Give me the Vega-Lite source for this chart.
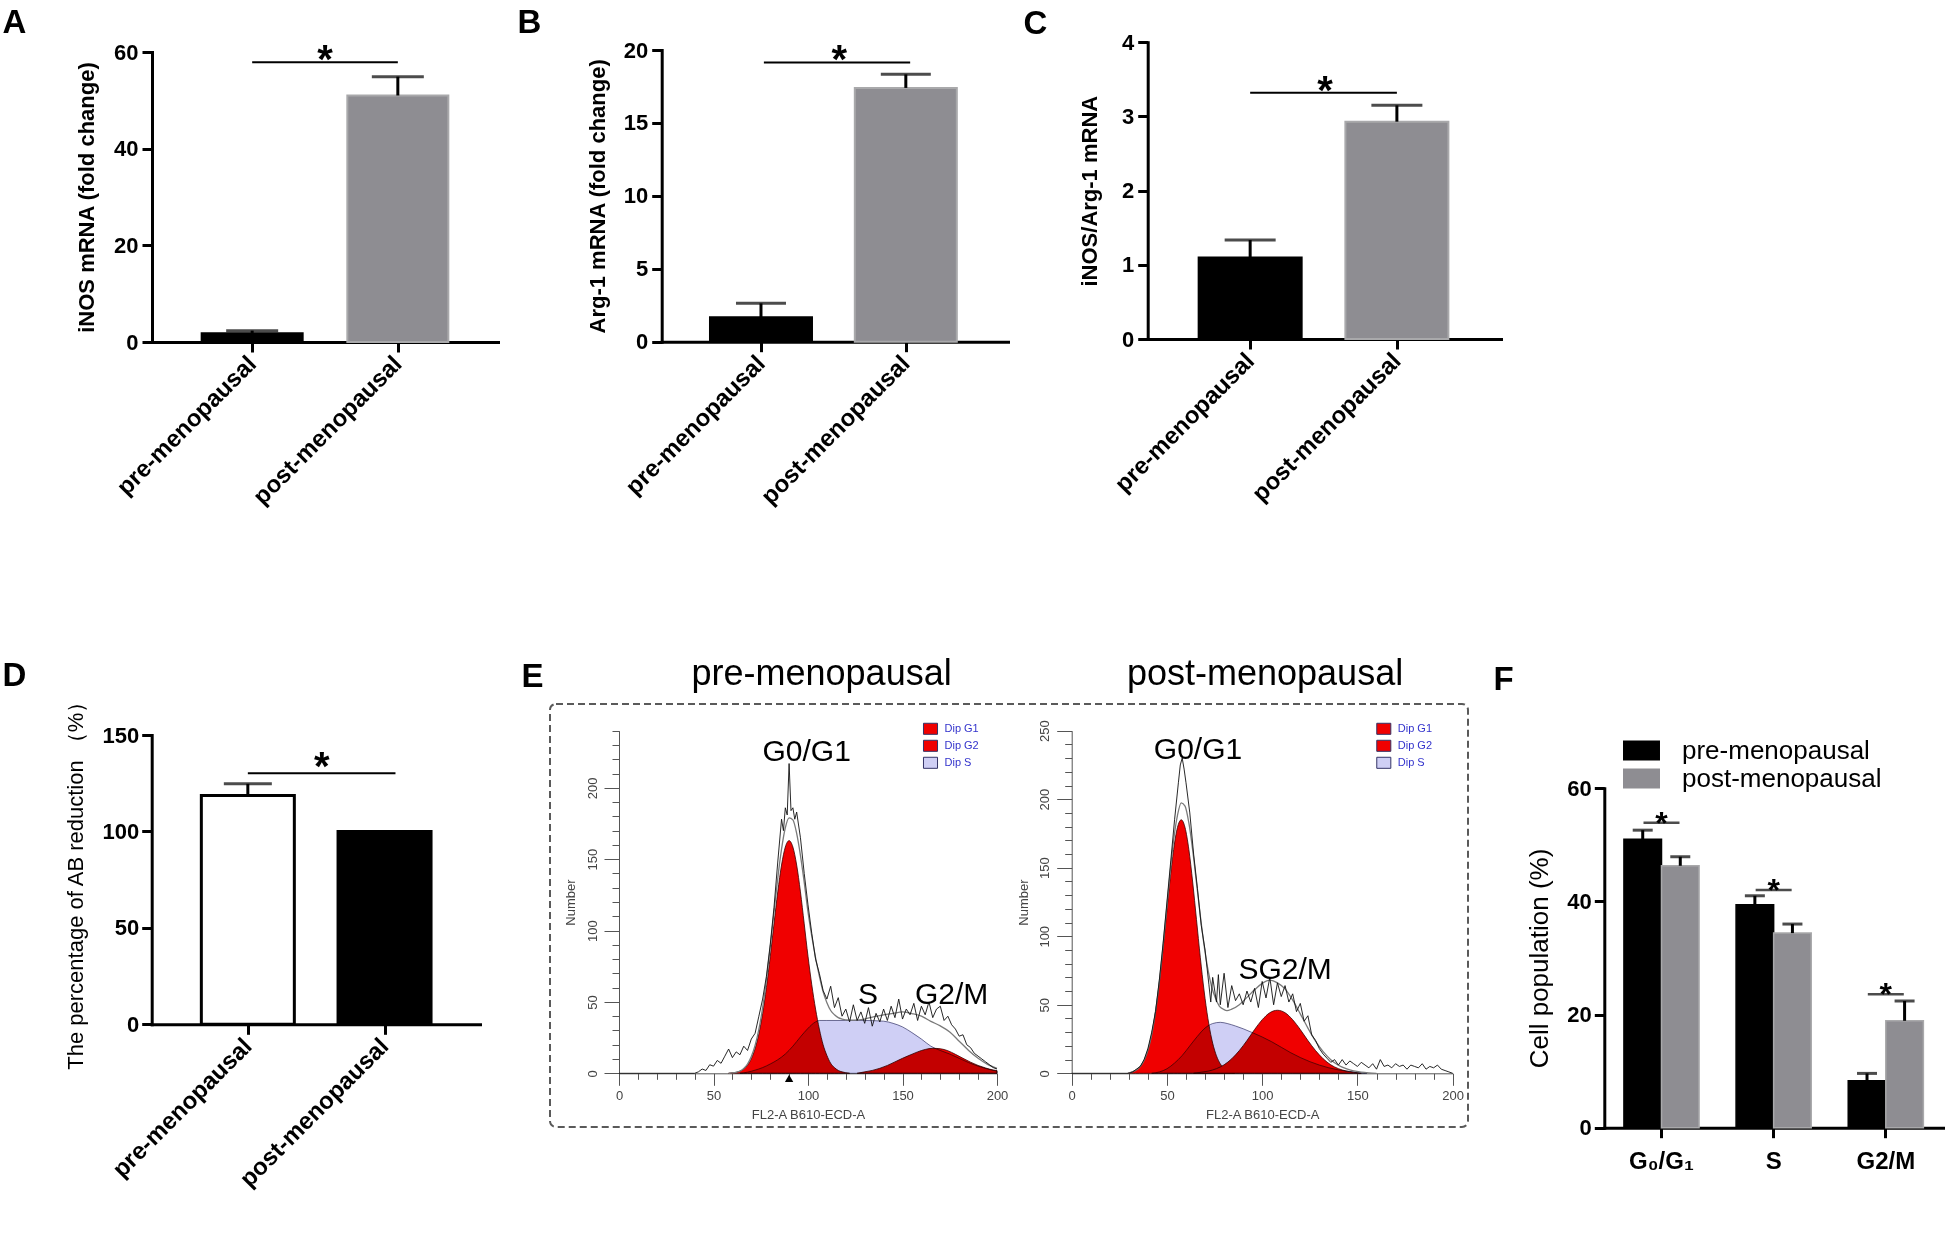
{
  "$schema": "https://vega.github.io/schema/vega-lite/v6.json",
  "width": 1946,
  "height": 1249,
  "autosize": {"type": "none"},
  "padding": 0,
  "background": "white",
  "config": {
    "view": {"stroke": null},
    "font": "Liberation Sans",
    "axis": {"grid": false, "domainColor": "#000", "tickColor": "#000", "labelColor": "#000", "titleColor": "#000", "labelFont": "Liberation Sans", "titleFont": "Liberation Sans", "labelFlush": false, "labelOverlap": false, "labelLimit": 0},
    "legend": {"padding": 0, "labelFont": "Liberation Sans", "titleFont": "Liberation Sans", "labelLimit": 0},
    "text": {"font": "Liberation Sans"}
  },
  "datasets": {
    "hist": [
      {"sample":"pre","comp":"Dip G1","x":58,"y":0},{"sample":"pre","comp":"Dip G1","x":60,"y":0.3},{"sample":"pre","comp":"Dip G1","x":62,"y":0.7},{"sample":"pre","comp":"Dip G1","x":64,"y":1.5},{"sample":"pre","comp":"Dip G1","x":66,"y":3},{"sample":"pre","comp":"Dip G1","x":68,"y":5.7},{"sample":"pre","comp":"Dip G1","x":70,"y":10.2},{"sample":"pre","comp":"Dip G1","x":72,"y":17.3},{"sample":"pre","comp":"Dip G1","x":74,"y":27.7},{"sample":"pre","comp":"Dip G1","x":76,"y":42},{"sample":"pre","comp":"Dip G1","x":78,"y":60.2},{"sample":"pre","comp":"Dip G1","x":80,"y":81.6},{"sample":"pre","comp":"Dip G1","x":82,"y":104.7},{"sample":"pre","comp":"Dip G1","x":84,"y":127.1},{"sample":"pre","comp":"Dip G1","x":86,"y":145.9},{"sample":"pre","comp":"Dip G1","x":88,"y":158.5},{"sample":"pre","comp":"Dip G1","x":90,"y":163},{"sample":"pre","comp":"Dip G1","x":92,"y":158.5},{"sample":"pre","comp":"Dip G1","x":94,"y":145.9},{"sample":"pre","comp":"Dip G1","x":96,"y":127.1},{"sample":"pre","comp":"Dip G1","x":98,"y":104.7},{"sample":"pre","comp":"Dip G1","x":100,"y":82},{"sample":"pre","comp":"Dip G1","x":102,"y":62},{"sample":"pre","comp":"Dip G1","x":104,"y":45},{"sample":"pre","comp":"Dip G1","x":106,"y":31},{"sample":"pre","comp":"Dip G1","x":108,"y":20},{"sample":"pre","comp":"Dip G1","x":110,"y":12.5},{"sample":"pre","comp":"Dip G1","x":112,"y":7},{"sample":"pre","comp":"Dip G1","x":114,"y":4},{"sample":"pre","comp":"Dip G1","x":116,"y":2},{"sample":"pre","comp":"Dip G1","x":118,"y":1},{"sample":"pre","comp":"Dip G1","x":120,"y":0.4},{"sample":"pre","comp":"Dip G1","x":122,"y":0},
      {"sample":"pre","comp":"Dip G2","x":126,"y":0},{"sample":"pre","comp":"Dip G2","x":130,"y":1},{"sample":"pre","comp":"Dip G2","x":134,"y":2},{"sample":"pre","comp":"Dip G2","x":138,"y":3.5},{"sample":"pre","comp":"Dip G2","x":142,"y":5.5},{"sample":"pre","comp":"Dip G2","x":146,"y":8},{"sample":"pre","comp":"Dip G2","x":150,"y":10.5},{"sample":"pre","comp":"Dip G2","x":154,"y":12.8},{"sample":"pre","comp":"Dip G2","x":158,"y":15},{"sample":"pre","comp":"Dip G2","x":162,"y":16.7},{"sample":"pre","comp":"Dip G2","x":166,"y":17.5},{"sample":"pre","comp":"Dip G2","x":170,"y":17.2},{"sample":"pre","comp":"Dip G2","x":174,"y":15.8},{"sample":"pre","comp":"Dip G2","x":178,"y":13.3},{"sample":"pre","comp":"Dip G2","x":182,"y":10.5},{"sample":"pre","comp":"Dip G2","x":186,"y":7.8},{"sample":"pre","comp":"Dip G2","x":190,"y":5.5},{"sample":"pre","comp":"Dip G2","x":194,"y":3.7},{"sample":"pre","comp":"Dip G2","x":198,"y":2.3},{"sample":"pre","comp":"Dip G2","x":200,"y":1.9},
      {"sample":"pre","comp":"Dip S","x":64,"y":0},{"sample":"pre","comp":"Dip S","x":68,"y":0.8},{"sample":"pre","comp":"Dip S","x":72,"y":2.2},{"sample":"pre","comp":"Dip S","x":76,"y":4},{"sample":"pre","comp":"Dip S","x":80,"y":6.5},{"sample":"pre","comp":"Dip S","x":84,"y":9.5},{"sample":"pre","comp":"Dip S","x":88,"y":13.5},{"sample":"pre","comp":"Dip S","x":92,"y":19},{"sample":"pre","comp":"Dip S","x":96,"y":25.5},{"sample":"pre","comp":"Dip S","x":100,"y":31.5},{"sample":"pre","comp":"Dip S","x":104,"y":36},{"sample":"pre","comp":"Dip S","x":106,"y":37},{"sample":"pre","comp":"Dip S","x":110,"y":37},{"sample":"pre","comp":"Dip S","x":120,"y":37},{"sample":"pre","comp":"Dip S","x":130,"y":37},{"sample":"pre","comp":"Dip S","x":140,"y":36.5},{"sample":"pre","comp":"Dip S","x":145,"y":35},{"sample":"pre","comp":"Dip S","x":150,"y":32.5},{"sample":"pre","comp":"Dip S","x":155,"y":28.5},{"sample":"pre","comp":"Dip S","x":160,"y":24},{"sample":"pre","comp":"Dip S","x":165,"y":19},{"sample":"pre","comp":"Dip S","x":170,"y":16},{"sample":"pre","comp":"Dip S","x":175,"y":13.5},{"sample":"pre","comp":"Dip S","x":180,"y":10.5},{"sample":"pre","comp":"Dip S","x":185,"y":7.5},{"sample":"pre","comp":"Dip S","x":190,"y":5},{"sample":"pre","comp":"Dip S","x":195,"y":3},{"sample":"pre","comp":"Dip S","x":200,"y":1.5},
      {"sample":"post","comp":"Dip G1","x":29.5,"y":0},{"sample":"post","comp":"Dip G1","x":31.5,"y":0.9},{"sample":"post","comp":"Dip G1","x":33.5,"y":2.1},{"sample":"post","comp":"Dip G1","x":35.5,"y":4.2},{"sample":"post","comp":"Dip G1","x":37.5,"y":8.1},{"sample":"post","comp":"Dip G1","x":39.5,"y":14.7},{"sample":"post","comp":"Dip G1","x":41.5,"y":25},{"sample":"post","comp":"Dip G1","x":43.5,"y":40},{"sample":"post","comp":"Dip G1","x":45.5,"y":60.1},{"sample":"post","comp":"Dip G1","x":47.5,"y":84.7},{"sample":"post","comp":"Dip G1","x":49.5,"y":112.2},{"sample":"post","comp":"Dip G1","x":51.5,"y":139.6},{"sample":"post","comp":"Dip G1","x":53.5,"y":163.3},{"sample":"post","comp":"Dip G1","x":55.5,"y":179.3},{"sample":"post","comp":"Dip G1","x":57.5,"y":185},{"sample":"post","comp":"Dip G1","x":59.5,"y":179.3},{"sample":"post","comp":"Dip G1","x":61.5,"y":163.3},{"sample":"post","comp":"Dip G1","x":63.5,"y":139.6},{"sample":"post","comp":"Dip G1","x":65.5,"y":112.2},{"sample":"post","comp":"Dip G1","x":67.5,"y":84.7},{"sample":"post","comp":"Dip G1","x":69.5,"y":60.1},{"sample":"post","comp":"Dip G1","x":71.5,"y":40},{"sample":"post","comp":"Dip G1","x":73.5,"y":25},{"sample":"post","comp":"Dip G1","x":75.5,"y":14.7},{"sample":"post","comp":"Dip G1","x":77.5,"y":8.1},{"sample":"post","comp":"Dip G1","x":79.5,"y":4.2},{"sample":"post","comp":"Dip G1","x":81.5,"y":2.1},{"sample":"post","comp":"Dip G1","x":83.5,"y":0.9},{"sample":"post","comp":"Dip G1","x":85.5,"y":0},
      {"sample":"post","comp":"Dip G2","x":64,"y":0},{"sample":"post","comp":"Dip G2","x":68,"y":0.8},{"sample":"post","comp":"Dip G2","x":72,"y":1.7},{"sample":"post","comp":"Dip G2","x":76,"y":3.4},{"sample":"post","comp":"Dip G2","x":80,"y":6.2},{"sample":"post","comp":"Dip G2","x":84,"y":10.6},{"sample":"post","comp":"Dip G2","x":88,"y":16.6},{"sample":"post","comp":"Dip G2","x":92,"y":23.9},{"sample":"post","comp":"Dip G2","x":96,"y":31.9},{"sample":"post","comp":"Dip G2","x":100,"y":39.1},{"sample":"post","comp":"Dip G2","x":104,"y":44.2},{"sample":"post","comp":"Dip G2","x":108,"y":46},{"sample":"post","comp":"Dip G2","x":112,"y":44.2},{"sample":"post","comp":"Dip G2","x":116,"y":39.1},{"sample":"post","comp":"Dip G2","x":120,"y":31.9},{"sample":"post","comp":"Dip G2","x":124,"y":23.9},{"sample":"post","comp":"Dip G2","x":128,"y":16.6},{"sample":"post","comp":"Dip G2","x":132,"y":10.6},{"sample":"post","comp":"Dip G2","x":136,"y":6.2},{"sample":"post","comp":"Dip G2","x":140,"y":3.4},{"sample":"post","comp":"Dip G2","x":144,"y":1.7},{"sample":"post","comp":"Dip G2","x":148,"y":0.8},{"sample":"post","comp":"Dip G2","x":152,"y":0},
      {"sample":"post","comp":"Dip S","x":42,"y":0},{"sample":"post","comp":"Dip S","x":46,"y":1},{"sample":"post","comp":"Dip S","x":50,"y":3.3},{"sample":"post","comp":"Dip S","x":54,"y":7.5},{"sample":"post","comp":"Dip S","x":58,"y":13},{"sample":"post","comp":"Dip S","x":62,"y":20},{"sample":"post","comp":"Dip S","x":66,"y":27},{"sample":"post","comp":"Dip S","x":70,"y":33},{"sample":"post","comp":"Dip S","x":74,"y":36.3},{"sample":"post","comp":"Dip S","x":78,"y":37.2},{"sample":"post","comp":"Dip S","x":82,"y":36.2},{"sample":"post","comp":"Dip S","x":86,"y":34.5},{"sample":"post","comp":"Dip S","x":90,"y":32.5},{"sample":"post","comp":"Dip S","x":95,"y":29.6},{"sample":"post","comp":"Dip S","x":100,"y":26.5},{"sample":"post","comp":"Dip S","x":105,"y":23},{"sample":"post","comp":"Dip S","x":110,"y":19},{"sample":"post","comp":"Dip S","x":115,"y":15},{"sample":"post","comp":"Dip S","x":120,"y":11.5},{"sample":"post","comp":"Dip S","x":125,"y":8.5},{"sample":"post","comp":"Dip S","x":130,"y":6},{"sample":"post","comp":"Dip S","x":135,"y":4},{"sample":"post","comp":"Dip S","x":140,"y":2.5},{"sample":"post","comp":"Dip S","x":145,"y":1.5},{"sample":"post","comp":"Dip S","x":150,"y":0.7},{"sample":"post","comp":"Dip S","x":155,"y":0}
    ],
    "fit": [
      {"sample":"pre","x":58,"y":0},{"sample":"pre","x":60,"y":0.3},{"sample":"pre","x":62,"y":0.7},{"sample":"pre","x":64,"y":1.5},{"sample":"pre","x":66,"y":3.4},{"sample":"pre","x":68,"y":6.5},{"sample":"pre","x":70,"y":11.7},{"sample":"pre","x":72,"y":19.5},{"sample":"pre","x":74,"y":30.8},{"sample":"pre","x":76,"y":46},{"sample":"pre","x":78,"y":65.5},{"sample":"pre","x":80,"y":88},{"sample":"pre","x":82,"y":112.6},{"sample":"pre","x":84,"y":136.6},{"sample":"pre","x":86,"y":157},{"sample":"pre","x":88,"y":172},{"sample":"pre","x":90,"y":179},{"sample":"pre","x":92,"y":177.5},{"sample":"pre","x":94,"y":168},{"sample":"pre","x":96,"y":152.6},{"sample":"pre","x":98,"y":133.7},{"sample":"pre","x":100,"y":113},{"sample":"pre","x":102,"y":96},{"sample":"pre","x":104,"y":81},{"sample":"pre","x":106,"y":68},{"sample":"pre","x":108,"y":57},{"sample":"pre","x":110,"y":49.5},{"sample":"pre","x":112,"y":44},{"sample":"pre","x":114,"y":41},{"sample":"pre","x":116,"y":39},{"sample":"pre","x":118,"y":38},{"sample":"pre","x":120,"y":37.4},{"sample":"pre","x":125,"y":37.2},{"sample":"pre","x":130,"y":38},{"sample":"pre","x":135,"y":39.7},{"sample":"pre","x":140,"y":41},{"sample":"pre","x":145,"y":42},{"sample":"pre","x":150,"y":43},{"sample":"pre","x":155,"y":41.8},{"sample":"pre","x":160,"y":40},{"sample":"pre","x":165,"y":36.4},{"sample":"pre","x":170,"y":33.2},{"sample":"pre","x":175,"y":29},{"sample":"pre","x":180,"y":22.5},{"sample":"pre","x":185,"y":16},{"sample":"pre","x":190,"y":10.5},{"sample":"pre","x":195,"y":6.3},{"sample":"pre","x":200,"y":3.4},
      {"sample":"post","x":29.5,"y":0},{"sample":"post","x":31.5,"y":0.9},{"sample":"post","x":33.5,"y":2.1},{"sample":"post","x":35.5,"y":4.2},{"sample":"post","x":37.5,"y":8.1},{"sample":"post","x":39.5,"y":14.7},{"sample":"post","x":41.5,"y":25},{"sample":"post","x":43.5,"y":40.5},{"sample":"post","x":45.5,"y":61},{"sample":"post","x":47.5,"y":86.5},{"sample":"post","x":49.5,"y":115.3},{"sample":"post","x":51.5,"y":144.2},{"sample":"post","x":53.5,"y":170.2},{"sample":"post","x":55.5,"y":188.1},{"sample":"post","x":57.5,"y":197.4},{"sample":"post","x":59.5,"y":195},{"sample":"post","x":61.5,"y":182.7},{"sample":"post","x":63.5,"y":163},{"sample":"post","x":65.5,"y":139.1},{"sample":"post","x":67.5,"y":115.1},{"sample":"post","x":69.5,"y":93.4},{"sample":"post","x":71.5,"y":75.9},{"sample":"post","x":73.5,"y":63},{"sample":"post","x":75.5,"y":54.7},{"sample":"post","x":77.5,"y":49},{"sample":"post","x":79.5,"y":46.9},{"sample":"post","x":81.5,"y":45.7},{"sample":"post","x":84,"y":46.8},{"sample":"post","x":88,"y":50.1},{"sample":"post","x":92,"y":55.4},{"sample":"post","x":96,"y":60.9},{"sample":"post","x":100,"y":65.6},{"sample":"post","x":104,"y":68},{"sample":"post","x":108,"y":66},{"sample":"post","x":112,"y":61.6},{"sample":"post","x":116,"y":53.4},{"sample":"post","x":120,"y":43.4},{"sample":"post","x":124,"y":33},{"sample":"post","x":128,"y":23.5},{"sample":"post","x":132,"y":15.8},{"sample":"post","x":136,"y":9.9},{"sample":"post","x":140,"y":5.9},{"sample":"post","x":144,"y":3.4},{"sample":"post","x":148,"y":1.7},{"sample":"post","x":152,"y":0.8},{"sample":"post","x":156,"y":0.3},{"sample":"post","x":160,"y":0}
    ],
    "raw": [
      {"sample":"pre","x":0,"y":0},{"sample":"pre","x":40,"y":0},{"sample":"pre","x":42,"y":1},{"sample":"pre","x":44,"y":3},{"sample":"pre","x":46,"y":2},{"sample":"pre","x":48,"y":6},{"sample":"pre","x":50,"y":5},{"sample":"pre","x":52,"y":9},{"sample":"pre","x":54,"y":7},{"sample":"pre","x":56,"y":12},{"sample":"pre","x":58,"y":17},{"sample":"pre","x":60,"y":11},{"sample":"pre","x":62,"y":15},{"sample":"pre","x":64,"y":13},{"sample":"pre","x":66,"y":19},{"sample":"pre","x":68,"y":16},{"sample":"pre","x":70,"y":24},{"sample":"pre","x":72,"y":28},{"sample":"pre","x":74,"y":40},{"sample":"pre","x":76,"y":52},{"sample":"pre","x":78,"y":68},{"sample":"pre","x":80,"y":90},{"sample":"pre","x":82,"y":116},{"sample":"pre","x":84,"y":148},{"sample":"pre","x":86,"y":178},{"sample":"pre","x":87,"y":170},{"sample":"pre","x":88,"y":186},{"sample":"pre","x":89,"y":181},{"sample":"pre","x":90,"y":217},{"sample":"pre","x":91,"y":184},{"sample":"pre","x":92,"y":186},{"sample":"pre","x":93,"y":178},{"sample":"pre","x":94,"y":183},{"sample":"pre","x":96,"y":165},{"sample":"pre","x":98,"y":140},{"sample":"pre","x":100,"y":118},{"sample":"pre","x":102,"y":98},{"sample":"pre","x":104,"y":80},{"sample":"pre","x":106,"y":70},{"sample":"pre","x":108,"y":58},{"sample":"pre","x":110,"y":52},{"sample":"pre","x":112,"y":61},{"sample":"pre","x":114,"y":46},{"sample":"pre","x":116,"y":53},{"sample":"pre","x":118,"y":40},{"sample":"pre","x":120,"y":45},{"sample":"pre","x":122,"y":36},{"sample":"pre","x":124,"y":48},{"sample":"pre","x":126,"y":37},{"sample":"pre","x":128,"y":43},{"sample":"pre","x":130,"y":35},{"sample":"pre","x":132,"y":46},{"sample":"pre","x":134,"y":33},{"sample":"pre","x":136,"y":42},{"sample":"pre","x":138,"y":36},{"sample":"pre","x":140,"y":45},{"sample":"pre","x":142,"y":37},{"sample":"pre","x":144,"y":47},{"sample":"pre","x":146,"y":39},{"sample":"pre","x":148,"y":52},{"sample":"pre","x":150,"y":38},{"sample":"pre","x":152,"y":45},{"sample":"pre","x":154,"y":41},{"sample":"pre","x":156,"y":49},{"sample":"pre","x":158,"y":37},{"sample":"pre","x":160,"y":47},{"sample":"pre","x":162,"y":41},{"sample":"pre","x":164,"y":50},{"sample":"pre","x":166,"y":39},{"sample":"pre","x":168,"y":45},{"sample":"pre","x":170,"y":47},{"sample":"pre","x":172,"y":37},{"sample":"pre","x":174,"y":40},{"sample":"pre","x":176,"y":34},{"sample":"pre","x":178,"y":31},{"sample":"pre","x":180,"y":26},{"sample":"pre","x":182,"y":27},{"sample":"pre","x":184,"y":20},{"sample":"pre","x":186,"y":18},{"sample":"pre","x":188,"y":14},{"sample":"pre","x":190,"y":12},{"sample":"pre","x":192,"y":10},{"sample":"pre","x":194,"y":8},{"sample":"pre","x":196,"y":6},{"sample":"pre","x":198,"y":4},{"sample":"pre","x":200,"y":3},
      {"sample":"post","x":0,"y":0},{"sample":"post","x":30,"y":0},{"sample":"post","x":32,"y":1},{"sample":"post","x":34,"y":3},{"sample":"post","x":36,"y":5},{"sample":"post","x":38,"y":10},{"sample":"post","x":40,"y":18},{"sample":"post","x":42,"y":30},{"sample":"post","x":44,"y":45},{"sample":"post","x":46,"y":68},{"sample":"post","x":48,"y":95},{"sample":"post","x":50,"y":125},{"sample":"post","x":52,"y":155},{"sample":"post","x":54,"y":185},{"sample":"post","x":56,"y":212},{"sample":"post","x":57,"y":225},{"sample":"post","x":58,"y":230},{"sample":"post","x":59,"y":222},{"sample":"post","x":60,"y":212},{"sample":"post","x":62,"y":190},{"sample":"post","x":64,"y":160},{"sample":"post","x":66,"y":135},{"sample":"post","x":68,"y":108},{"sample":"post","x":70,"y":90},{"sample":"post","x":72,"y":65},{"sample":"post","x":73,"y":52},{"sample":"post","x":74,"y":70},{"sample":"post","x":76,"y":52},{"sample":"post","x":77,"y":72},{"sample":"post","x":78,"y":50},{"sample":"post","x":80,"y":73},{"sample":"post","x":82,"y":48},{"sample":"post","x":84,"y":64},{"sample":"post","x":86,"y":53},{"sample":"post","x":88,"y":58},{"sample":"post","x":90,"y":50},{"sample":"post","x":92,"y":60},{"sample":"post","x":94,"y":52},{"sample":"post","x":96,"y":62},{"sample":"post","x":98,"y":48},{"sample":"post","x":100,"y":67},{"sample":"post","x":102,"y":55},{"sample":"post","x":104,"y":70},{"sample":"post","x":106,"y":50},{"sample":"post","x":108,"y":66},{"sample":"post","x":110,"y":56},{"sample":"post","x":112,"y":64},{"sample":"post","x":114,"y":52},{"sample":"post","x":116,"y":58},{"sample":"post","x":118,"y":45},{"sample":"post","x":120,"y":51},{"sample":"post","x":122,"y":38},{"sample":"post","x":124,"y":42},{"sample":"post","x":126,"y":28},{"sample":"post","x":128,"y":24},{"sample":"post","x":130,"y":18},{"sample":"post","x":132,"y":14},{"sample":"post","x":134,"y":11},{"sample":"post","x":136,"y":8},{"sample":"post","x":138,"y":10},{"sample":"post","x":140,"y":6},{"sample":"post","x":142,"y":10},{"sample":"post","x":144,"y":6},{"sample":"post","x":146,"y":9},{"sample":"post","x":148,"y":7},{"sample":"post","x":150,"y":5},{"sample":"post","x":152,"y":8},{"sample":"post","x":154,"y":6},{"sample":"post","x":156,"y":4},{"sample":"post","x":158,"y":7},{"sample":"post","x":160,"y":3},{"sample":"post","x":162,"y":10},{"sample":"post","x":164,"y":5},{"sample":"post","x":166,"y":6},{"sample":"post","x":168,"y":4},{"sample":"post","x":170,"y":7},{"sample":"post","x":172,"y":5},{"sample":"post","x":174,"y":6},{"sample":"post","x":176,"y":3},{"sample":"post","x":178,"y":6},{"sample":"post","x":180,"y":5},{"sample":"post","x":182,"y":4},{"sample":"post","x":184,"y":7},{"sample":"post","x":186,"y":3},{"sample":"post","x":188,"y":5},{"sample":"post","x":190,"y":4},{"sample":"post","x":192,"y":6},{"sample":"post","x":194,"y":3},{"sample":"post","x":196,"y":2},{"sample":"post","x":198,"y":1},{"sample":"post","x":200,"y":0}
    ],
    "phaseLabels": [
      {"sample":"pre","label":"G0/G1","x":99.3,"y":225},
      {"sample":"pre","label":"S","x":131.7,"y":55},
      {"sample":"pre","label":"G2/M","x":176,"y":55},
      {"sample":"post","label":"G0/G1","x":66.3,"y":236},
      {"sample":"post","label":"SG2/M","x":112,"y":75.4}
    ]
  },
  "resolve": {
    "scale": {"x": "independent", "y": "independent", "fill": "independent", "xOffset": "independent"},
    "axis": {"x": "independent", "y": "independent"},
    "legend": {"fill": "independent"}
  },
  "layer": [
    {
      "data": {"values": [{"frame": "E"}]},
      "mark": {"type": "rect", "filled": false, "color": "#5a5a5a", "strokeWidth": 2, "strokeDash": [7, 4], "cornerRadius": 6},
      "encoding": {
        "x": {"datum": 0, "type": "quantitative", "scale": {"domain": [0, 1], "range": [550, 1468], "nice": false, "zero": false},
              "axis": {"orient": "bottom", "offset": 0, "domain": false, "ticks": false, "labels": false, "title": "E", "titleX": 521, "titleY": -563, "titleAlign": "left", "titleBaseline": "alphabetic", "titleAngle": 0, "titleFontSize": 33, "titleFontWeight": "bold"}},
        "x2": {"datum": 1},
        "y": {"datum": 0, "type": "quantitative", "scale": {"domain": [0, 1], "range": [1127, 704], "nice": false, "zero": false}, "axis": null},
        "y2": {"datum": 1}
      }
    },
    {
      "data": {"values": [
        {"idx": 1, "group": "pre-menopausal", "value": 1.8, "upper": 2.35},
        {"idx": 2, "group": "post-menopausal", "value": 51.0, "upper": 54.9}
      ]},
      "layer": [
        {
          "mark": {"type": "bar", "width": 101, "strokeWidth": 2},
          "encoding": {
            "x": {"field": "idx", "type": "quantitative", "scale": {"domain": [0.3467, 2.6533], "range": [152, 498], "nice": false, "zero": false},
                  "axis": {"orient": "bottom", "offset": -907, "values": [1, 2], "labelExpr": "datum.value == 1 ? 'pre-menopausal' : 'post-menopausal'", "labelAngle": -45, "labelAlign": "right", "labelBaseline": "middle", "labelFontSize": 24, "labelFontWeight": "bold", "labelPadding": 8, "tickSize": 10, "tickWidth": 3, "domainWidth": 3, "domainCap": "square", "title": "A", "titleX": 2, "titleY": -310, "titleAlign": "left", "titleBaseline": "alphabetic", "titleAngle": 0, "titleFontSize": 33, "titleFontWeight": "bold"}},
            "y": {"field": "value", "type": "quantitative", "scale": {"domain": [0, 60], "range": [342, 52], "nice": false},
                  "axis": {"orient": "left", "offset": -152, "values": [0, 20, 40, 60], "format": "d", "labelFontSize": 22, "labelFontWeight": "bold", "labelPadding": 4, "tickSize": 10, "tickWidth": 3, "domainWidth": 3, "domainCap": "square", "title": "iNOS mRNA (fold change)", "titleFontSize": 22, "titleFontWeight": "bold", "titleX": -54}},
            "fill": {"field": "group", "type": "nominal", "scale": {"domain": ["pre-menopausal", "post-menopausal"], "range": ["#000000", "#8e8d92"]}, "legend": null},
            "stroke": {"condition": {"test": "datum.group === 'post-menopausal'", "value": "#a9a9ab"}, "value": "#000000"}
          }
        },
        {
          "mark": {"type": "rule", "strokeWidth": 3, "color": "#000"},
          "encoding": {"x": {"field": "idx", "type": "quantitative"}, "y": {"field": "value", "type": "quantitative"}, "y2": {"field": "upper"}}
        },
        {
          "mark": {"type": "tick", "orient": "horizontal", "size": 52, "thickness": 3, "color": "#000"},
          "encoding": {"x": {"field": "idx", "type": "quantitative"}, "y": {"field": "upper", "type": "quantitative"}}
        },
        {
          "data": {"values": [{"from": 1, "to": 2, "level": 57.9, "mid": 1.5, "label": "*"}]},
          "layer": [
            {"mark": {"type": "rule", "strokeWidth": 2, "color": "#000"}, "encoding": {"x": {"field": "from", "type": "quantitative"}, "x2": {"field": "to"}, "y": {"field": "level", "type": "quantitative"}}},
            {"mark": {"type": "text", "fontSize": 40, "fontWeight": "bold", "dy": 11, "baseline": "alphabetic"}, "encoding": {"x": {"field": "mid", "type": "quantitative"}, "y": {"field": "level", "type": "quantitative"}, "text": {"field": "label"}}}
          ]
        }
      ]
    },
    {
      "data": {"values": [
        {"idx": 1, "group": "pre-menopausal", "value": 1.67, "upper": 2.63},
        {"idx": 2, "group": "post-menopausal", "value": 17.4, "upper": 18.33}
      ]},
      "layer": [
        {
          "mark": {"type": "bar", "width": 102, "strokeWidth": 2},
          "encoding": {
            "x": {"field": "idx", "type": "quantitative", "scale": {"domain": [0.349, 2.671], "range": [661.7, 1008], "nice": false, "zero": false},
                  "axis": {"orient": "bottom", "offset": -907.3, "values": [1, 2], "labelExpr": "datum.value == 1 ? 'pre-menopausal' : 'post-menopausal'", "labelAngle": -45, "labelAlign": "right", "labelBaseline": "middle", "labelFontSize": 24, "labelFontWeight": "bold", "labelPadding": 8, "tickSize": 10, "tickWidth": 3, "domainWidth": 3, "domainCap": "square", "title": "B", "titleX": 517, "titleY": -309.7, "titleAlign": "left", "titleBaseline": "alphabetic", "titleAngle": 0, "titleFontSize": 33, "titleFontWeight": "bold"}},
            "y": {"field": "value", "type": "quantitative", "scale": {"domain": [0, 20], "range": [341.7, 50], "nice": false},
                  "axis": {"orient": "left", "offset": -661.7, "values": [0, 5, 10, 15, 20], "format": "d", "labelFontSize": 22, "labelFontWeight": "bold", "labelPadding": 4, "tickSize": 10, "tickWidth": 3, "domainWidth": 3, "domainCap": "square", "title": "Arg-1 mRNA (fold change)", "titleFontSize": 22, "titleFontWeight": "bold", "titleX": -52}},
            "fill": {"field": "group", "type": "nominal", "scale": {"domain": ["pre-menopausal", "post-menopausal"], "range": ["#000000", "#8e8d92"]}, "legend": null},
            "stroke": {"condition": {"test": "datum.group === 'post-menopausal'", "value": "#a9a9ab"}, "value": "#000000"}
          }
        },
        {
          "mark": {"type": "rule", "strokeWidth": 3, "color": "#000"},
          "encoding": {"x": {"field": "idx", "type": "quantitative"}, "y": {"field": "value", "type": "quantitative"}, "y2": {"field": "upper"}}
        },
        {
          "mark": {"type": "tick", "orient": "horizontal", "size": 50, "thickness": 3, "color": "#000"},
          "encoding": {"x": {"field": "idx", "type": "quantitative"}, "y": {"field": "upper", "type": "quantitative"}}
        },
        {
          "data": {"values": [{"from": 1.02, "to": 2.03, "level": 19.14, "mid": 1.54, "label": "*"}]},
          "layer": [
            {"mark": {"type": "rule", "strokeWidth": 2, "color": "#000"}, "encoding": {"x": {"field": "from", "type": "quantitative"}, "x2": {"field": "to"}, "y": {"field": "level", "type": "quantitative"}}},
            {"mark": {"type": "text", "fontSize": 40, "fontWeight": "bold", "dy": 10, "baseline": "alphabetic"}, "encoding": {"x": {"field": "mid", "type": "quantitative"}, "y": {"field": "level", "type": "quantitative"}, "text": {"field": "label"}}}
          ]
        }
      ]
    },
    {
      "data": {"values": [
        {"idx": 1, "group": "pre-menopausal", "value": 1.10, "upper": 1.334},
        {"idx": 2, "group": "post-menopausal", "value": 2.93, "upper": 3.15}
      ]},
      "layer": [
        {
          "mark": {"type": "bar", "width": 103, "strokeWidth": 2},
          "encoding": {
            "x": {"field": "idx", "type": "quantitative", "scale": {"domain": [0.3358, 2.6755], "range": [1147.7, 1501], "nice": false, "zero": false},
                  "axis": {"orient": "bottom", "offset": -910, "values": [1, 2], "labelExpr": "datum.value == 1 ? 'pre-menopausal' : 'post-menopausal'", "labelAngle": -45, "labelAlign": "right", "labelBaseline": "middle", "labelFontSize": 24, "labelFontWeight": "bold", "labelPadding": 8, "tickSize": 10, "tickWidth": 3, "domainWidth": 3, "domainCap": "square", "title": "C", "titleX": 1023, "titleY": -306, "titleAlign": "left", "titleBaseline": "alphabetic", "titleAngle": 0, "titleFontSize": 33, "titleFontWeight": "bold"}},
            "y": {"field": "value", "type": "quantitative", "scale": {"domain": [0, 4], "range": [339, 42.3], "nice": false},
                  "axis": {"orient": "left", "offset": -1147.7, "values": [0, 1, 2, 3, 4], "format": "d", "labelFontSize": 22, "labelFontWeight": "bold", "labelPadding": 4, "tickSize": 10, "tickWidth": 3, "domainWidth": 3, "domainCap": "square", "title": "iNOS/Arg-1 mRNA", "titleFontSize": 22, "titleFontWeight": "bold", "titleX": -46}},
            "fill": {"field": "group", "type": "nominal", "scale": {"domain": ["pre-menopausal", "post-menopausal"], "range": ["#000000", "#8e8d92"]}, "legend": null},
            "stroke": {"condition": {"test": "datum.group === 'post-menopausal'", "value": "#a9a9ab"}, "value": "#000000"}
          }
        },
        {
          "mark": {"type": "rule", "strokeWidth": 3, "color": "#000"},
          "encoding": {"x": {"field": "idx", "type": "quantitative"}, "y": {"field": "value", "type": "quantitative"}, "y2": {"field": "upper"}}
        },
        {
          "mark": {"type": "tick", "orient": "horizontal", "size": 51, "thickness": 3, "color": "#000"},
          "encoding": {"x": {"field": "idx", "type": "quantitative"}, "y": {"field": "upper", "type": "quantitative"}}
        },
        {
          "data": {"values": [{"from": 1, "to": 2, "level": 3.32, "mid": 1.51, "label": "*"}]},
          "layer": [
            {"mark": {"type": "rule", "strokeWidth": 2, "color": "#000"}, "encoding": {"x": {"field": "from", "type": "quantitative"}, "x2": {"field": "to"}, "y": {"field": "level", "type": "quantitative"}}},
            {"mark": {"type": "text", "fontSize": 40, "fontWeight": "bold", "dy": 11.6, "baseline": "alphabetic"}, "encoding": {"x": {"field": "mid", "type": "quantitative"}, "y": {"field": "level", "type": "quantitative"}, "text": {"field": "label"}}}
          ]
        }
      ]
    },
    {
      "data": {"values": [
        {"idx": 1, "group": "pre-menopausal", "value": 118.6, "upper": 124.7},
        {"idx": 2, "group": "post-menopausal", "value": 100, "upper": null}
      ]},
      "layer": [
        {
          "mark": {"type": "bar", "width": 93, "strokeWidth": 3, "stroke": "#000"},
          "encoding": {
            "x": {"field": "idx", "type": "quantitative", "scale": {"domain": [0.3333, 2.6617], "range": [151.7, 480], "nice": false, "zero": false},
                  "axis": {"orient": "bottom", "offset": -224.7, "values": [1, 2], "labelExpr": "datum.value == 1 ? 'pre-menopausal' : 'post-menopausal'", "labelAngle": -45, "labelAlign": "right", "labelBaseline": "middle", "labelFontSize": 24, "labelFontWeight": "bold", "labelPadding": 8, "tickSize": 10, "tickWidth": 3, "domainWidth": 3, "domainCap": "square", "title": "D", "titleX": 2, "titleY": -339.3, "titleAlign": "left", "titleBaseline": "alphabetic", "titleAngle": 0, "titleFontSize": 33, "titleFontWeight": "bold"}},
            "y": {"field": "value", "type": "quantitative", "scale": {"domain": [0, 150], "range": [1024.3, 735], "nice": false},
                  "axis": {"orient": "left", "offset": -151.7, "values": [0, 50, 100, 150], "format": "d", "labelFontSize": 22, "labelFontWeight": "bold", "labelPadding": 3, "tickSize": 10, "tickWidth": 3, "domainWidth": 3, "domainCap": "square", "title": "The percentage of AB reduction （%）", "titleFontSize": 22, "titleFontWeight": "normal", "titleX": -64}},
            "fill": {"field": "group", "type": "nominal", "scale": {"domain": ["pre-menopausal", "post-menopausal"], "range": ["#ffffff", "#000000"]}, "legend": null}
          }
        },
        {
          "transform": [{"filter": "datum.upper != null"}],
          "mark": {"type": "rule", "strokeWidth": 3, "color": "#000"},
          "encoding": {"x": {"field": "idx", "type": "quantitative"}, "y": {"field": "value", "type": "quantitative"}, "y2": {"field": "upper"}}
        },
        {
          "transform": [{"filter": "datum.upper != null"}],
          "mark": {"type": "tick", "orient": "horizontal", "size": 48, "thickness": 3, "color": "#000"},
          "encoding": {"x": {"field": "idx", "type": "quantitative"}, "y": {"field": "upper", "type": "quantitative"}}
        },
        {
          "data": {"values": [{"from": 1, "to": 2.08, "level": 130.2, "mid": 1.54, "label": "*"}]},
          "layer": [
            {"mark": {"type": "rule", "strokeWidth": 2, "color": "#000"}, "encoding": {"x": {"field": "from", "type": "quantitative"}, "x2": {"field": "to"}, "y": {"field": "level", "type": "quantitative"}}},
            {"mark": {"type": "text", "fontSize": 40, "fontWeight": "bold", "dy": 7, "baseline": "alphabetic"}, "encoding": {"x": {"field": "mid", "type": "quantitative"}, "y": {"field": "level", "type": "quantitative"}, "text": {"field": "label"}}}
          ]
        }
      ]
    },
    {
      "layer": [
        {
          "data": {"name": "hist"},
          "transform": [{"filter": "datum.sample === 'pre' && datum.comp !== 'Dip S'"}],
          "mark": {"type": "area", "interpolate": "monotone", "stroke": "#3a0000", "strokeWidth": 0.8},
          "encoding": {
            "x": {"field": "x", "type": "quantitative", "scale": {"domain": [0, 200], "range": [619, 997], "nice": false, "zero": false},
                  "axis": {"orient": "bottom", "offset": -175.7, "values": [0,10,20,30,40,50,60,70,80,90,100,110,120,130,140,150,160,170,180,190,200], "labelExpr": "datum.value % 50 === 0 ? datum.label : ''", "tickSize": {"condition": {"test": "datum.value % 50 === 0", "value": 12}, "value": 6}, "tickWidth": 1, "tickColor": "#555", "domainColor": "#555", "domainWidth": 1, "labelFontSize": 13, "labelFontWeight": "normal", "labelColor": "#444", "labelPadding": 4, "labelAngle": 0, "title": "FL2-A B610-ECD-A", "titleFontSize": 13, "titleFontWeight": "normal", "titleColor": "#444", "titleY": 35, "titleBaseline": "top"}},
            "y": {"field": "y", "type": "quantitative", "stack": null, "scale": {"domain": [0, 240], "range": [1073.3, 730.7], "nice": false},
                  "axis": {"orient": "left", "offset": -619, "values": [0,10,20,30,40,50,60,70,80,90,100,110,120,130,140,150,160,170,180,190,200,210,220,230,240], "labelExpr": "datum.value % 50 === 0 ? datum.label : ''", "tickSize": {"condition": {"test": "datum.value % 50 === 0", "value": 15}, "value": 7}, "tickWidth": 1, "tickColor": "#555", "domainColor": "#555", "domainWidth": 1, "labelFontSize": 13, "labelColor": "#444", "labelAngle": -90, "labelAlign": "center", "labelBaseline": "bottom", "labelPadding": 5, "title": "Number", "titleFontSize": 13, "titleFontWeight": "normal", "titleColor": "#444", "titleX": -42}},
            "fill": {"field": "comp", "type": "nominal", "scale": {"domain": ["Dip G1", "Dip G2", "Dip S"], "range": ["#f00000", "#f00000", "#cfcff5"]},
                     "legend": {"orient": "none", "legendX": 923.5, "legendY": 721.8, "title": null, "symbolType": "M-1.08,-0.85H1.08V0.85H-1.08Z", "symbolSize": 169, "symbolStrokeColor": "#222", "symbolStrokeWidth": 1, "labelColor": "#3333cc", "labelFontSize": 11, "labelOffset": 7, "rowPadding": 1}}
          }
        },
        {
          "data": {"name": "hist"},
          "transform": [{"filter": "datum.sample === 'pre' && datum.comp === 'Dip S'"}],
          "mark": {"type": "area", "interpolate": "monotone", "blend": "multiply", "stroke": "#333366", "strokeWidth": 0.7},
          "encoding": {
            "x": {"field": "x", "type": "quantitative"},
            "y": {"field": "y", "type": "quantitative", "stack": null},
            "fill": {"field": "comp", "type": "nominal"}
          }
        },
        {
          "data": {"name": "fit"},
          "transform": [{"filter": "datum.sample === 'pre'"}],
          "mark": {"type": "line", "interpolate": "monotone", "color": "#7a7a7a", "strokeWidth": 1.3},
          "encoding": {"x": {"field": "x", "type": "quantitative"}, "y": {"field": "y", "type": "quantitative"}}
        },
        {
          "data": {"name": "raw"},
          "transform": [{"filter": "datum.sample === 'pre'"}],
          "mark": {"type": "line", "color": "#111", "strokeWidth": 0.9},
          "encoding": {"x": {"field": "x", "type": "quantitative"}, "y": {"field": "y", "type": "quantitative"}}
        },
        {
          "data": {"values": [{"x": 90, "y": -3.5}]},
          "mark": {"type": "point", "shape": "triangle-up", "filled": true, "color": "#000", "size": 70, "opacity": 1},
          "encoding": {"x": {"field": "x", "type": "quantitative"}, "y": {"field": "y", "type": "quantitative"}}
        },
        {
          "data": {"name": "phaseLabels"},
          "transform": [{"filter": "datum.sample === 'pre'"}],
          "mark": {"type": "text", "fontSize": 30, "baseline": "middle", "align": "center", "color": "#000"},
          "encoding": {"x": {"field": "x", "type": "quantitative"}, "y": {"field": "y", "type": "quantitative"}, "text": {"field": "label"}}
        },
        {
          "data": {"values": [{"header": "pre-menopausal", "x": 107.2, "y": 272}]},
          "mark": {"type": "text", "fontSize": 36, "baseline": "alphabetic", "align": "center", "color": "#000"},
          "encoding": {"x": {"field": "x", "type": "quantitative"}, "y": {"field": "y", "type": "quantitative"}, "text": {"field": "header"}}
        }
      ]
    },
    {
      "layer": [
        {
          "data": {"name": "hist"},
          "transform": [{"filter": "datum.sample === 'post' && datum.comp !== 'Dip S'"}],
          "mark": {"type": "area", "interpolate": "monotone", "stroke": "#3a0000", "strokeWidth": 0.8},
          "encoding": {
            "x": {"field": "x", "type": "quantitative", "scale": {"domain": [0, 200], "range": [1071.7, 1452.7], "nice": false, "zero": false},
                  "axis": {"orient": "bottom", "offset": -175.7, "values": [0,10,20,30,40,50,60,70,80,90,100,110,120,130,140,150,160,170,180,190,200], "labelExpr": "datum.value % 50 === 0 ? datum.label : ''", "tickSize": {"condition": {"test": "datum.value % 50 === 0", "value": 12}, "value": 6}, "tickWidth": 1, "tickColor": "#555", "domainColor": "#555", "domainWidth": 1, "labelFontSize": 13, "labelFontWeight": "normal", "labelColor": "#444", "labelPadding": 4, "labelAngle": 0, "title": "FL2-A B610-ECD-A", "titleFontSize": 13, "titleFontWeight": "normal", "titleColor": "#444", "titleY": 35, "titleBaseline": "top"}},
            "y": {"field": "y", "type": "quantitative", "stack": null, "scale": {"domain": [0, 250], "range": [1073.3, 730.7], "nice": false},
                  "axis": {"orient": "left", "offset": -1071.7, "values": [0,10,20,30,40,50,60,70,80,90,100,110,120,130,140,150,160,170,180,190,200,210,220,230,240,250], "labelExpr": "datum.value % 50 === 0 ? datum.label : ''", "tickSize": {"condition": {"test": "datum.value % 50 === 0", "value": 15}, "value": 7}, "tickWidth": 1, "tickColor": "#555", "domainColor": "#555", "domainWidth": 1, "labelFontSize": 13, "labelColor": "#444", "labelAngle": -90, "labelAlign": "center", "labelBaseline": "bottom", "labelPadding": 5, "title": "Number", "titleFontSize": 13, "titleFontWeight": "normal", "titleColor": "#444", "titleX": -41.7}},
            "fill": {"field": "comp", "type": "nominal", "scale": {"domain": ["Dip G1", "Dip G2", "Dip S"], "range": ["#f00000", "#f00000", "#cfcff5"]},
                     "legend": {"orient": "none", "legendX": 1376.8, "legendY": 721.8, "title": null, "symbolType": "M-1.08,-0.85H1.08V0.85H-1.08Z", "symbolSize": 169, "symbolStrokeColor": "#222", "symbolStrokeWidth": 1, "labelColor": "#3333cc", "labelFontSize": 11, "labelOffset": 7, "rowPadding": 1}}
          }
        },
        {
          "data": {"name": "hist"},
          "transform": [{"filter": "datum.sample === 'post' && datum.comp === 'Dip S'"}],
          "mark": {"type": "area", "interpolate": "monotone", "blend": "multiply", "stroke": "#333366", "strokeWidth": 0.7},
          "encoding": {
            "x": {"field": "x", "type": "quantitative"},
            "y": {"field": "y", "type": "quantitative", "stack": null},
            "fill": {"field": "comp", "type": "nominal"}
          }
        },
        {
          "data": {"name": "fit"},
          "transform": [{"filter": "datum.sample === 'post'"}],
          "mark": {"type": "line", "interpolate": "monotone", "color": "#7a7a7a", "strokeWidth": 1.3},
          "encoding": {"x": {"field": "x", "type": "quantitative"}, "y": {"field": "y", "type": "quantitative"}}
        },
        {
          "data": {"name": "raw"},
          "transform": [{"filter": "datum.sample === 'post'"}],
          "mark": {"type": "line", "color": "#111", "strokeWidth": 0.9},
          "encoding": {"x": {"field": "x", "type": "quantitative"}, "y": {"field": "y", "type": "quantitative"}}
        },
        {
          "data": {"name": "phaseLabels"},
          "transform": [{"filter": "datum.sample === 'post'"}],
          "mark": {"type": "text", "fontSize": 30, "baseline": "middle", "align": "center", "color": "#000"},
          "encoding": {"x": {"field": "x", "type": "quantitative"}, "y": {"field": "y", "type": "quantitative"}, "text": {"field": "label"}}
        },
        {
          "data": {"values": [{"header": "post-menopausal", "x": 101.5, "y": 283.3}]},
          "mark": {"type": "text", "fontSize": 36, "baseline": "alphabetic", "align": "center", "color": "#000"},
          "encoding": {"x": {"field": "x", "type": "quantitative"}, "y": {"field": "y", "type": "quantitative"}, "text": {"field": "header"}}
        }
      ]
    },
    {
      "data": {"values": [
        {"phase": "G0/G1", "group": "pre-menopausal", "value": 51.0, "upper": 52.6},
        {"phase": "G0/G1", "group": "post-menopausal", "value": 46.3, "upper": 47.9},
        {"phase": "S", "group": "pre-menopausal", "value": 39.4, "upper": 41.0},
        {"phase": "S", "group": "post-menopausal", "value": 34.4, "upper": 36.0},
        {"phase": "G2/M", "group": "pre-menopausal", "value": 8.3, "upper": 9.6},
        {"phase": "G2/M", "group": "post-menopausal", "value": 18.9, "upper": 22.4}
      ]},
      "layer": [
        {
          "mark": {"type": "bar", "strokeWidth": 1.5},
          "encoding": {
            "x": {"field": "phase", "type": "nominal", "scale": {"domain": ["G0/G1", "S", "G2/M"], "range": [1604.3, 1943], "paddingInner": 0.33, "paddingOuter": 0.175},
                  "axis": {"orient": "bottom", "offset": -121.3, "labelExpr": "datum.value === 'G0/G1' ? 'G₀/G₁' : datum.value", "labelAngle": 0, "labelFontSize": 24, "labelFontWeight": "bold", "labelPadding": 12, "tickSize": 10, "tickWidth": 3, "domainWidth": 3, "domainCap": "square", "title": "F", "titleX": 1493, "titleY": -437.7, "titleAlign": "left", "titleBaseline": "alphabetic", "titleAngle": 0, "titleFontSize": 33, "titleFontWeight": "bold"}},
            "xOffset": {"field": "group", "type": "nominal", "scale": {"domain": ["pre-menopausal", "post-menopausal"], "paddingInner": 0, "paddingOuter": 0}},
            "y": {"field": "value", "type": "quantitative", "scale": {"domain": [0, 60], "range": [1127.7, 788.3], "nice": false},
                  "axis": {"orient": "left", "offset": -1604.3, "values": [0, 20, 40, 60], "format": "d", "labelFontSize": 22, "labelFontWeight": "bold", "labelPadding": 3, "tickSize": 10, "tickWidth": 3, "domainWidth": 3, "domainCap": "square", "title": "Cell population (%)", "titleFontSize": 26, "titleFontWeight": "normal", "titleX": -52}},
            "fill": {"field": "group", "type": "nominal", "scale": {"domain": ["pre-menopausal", "post-menopausal"], "range": ["#000000", "#8e8d92"]},
                     "legend": {"orient": "none", "legendX": 1628, "legendY": 737, "title": null, "symbolType": "M-1.37,-0.74H1.37V0.74H-1.37Z", "symbolSize": 729, "symbolStrokeWidth": 0, "labelFontSize": 26, "labelOffset": 27, "rowPadding": 1, "labelColor": "#000", "labelLimit": 0}},
            "stroke": {"condition": {"test": "datum.group === 'post-menopausal'", "value": "#a9a9ab"}, "value": "#000000"}
          }
        },
        {
          "mark": {"type": "rule", "strokeWidth": 3, "color": "#000"},
          "encoding": {"x": {"field": "phase", "type": "nominal"}, "xOffset": {"field": "group", "type": "nominal"}, "y": {"field": "value", "type": "quantitative"}, "y2": {"field": "upper"}}
        },
        {
          "mark": {"type": "tick", "orient": "horizontal", "size": 20, "thickness": 3, "color": "#000"},
          "encoding": {"x": {"field": "phase", "type": "nominal"}, "xOffset": {"field": "group", "type": "nominal"}, "y": {"field": "upper", "type": "quantitative"}}
        },
        {
          "data": {"values": [
            {"phase": "G0/G1", "level": 53.9, "label": "*"},
            {"phase": "S", "level": 42.0, "label": "*"},
            {"phase": "G2/M", "level": 23.6, "label": "*"}
          ]},
          "layer": [
            {"mark": {"type": "tick", "orient": "horizontal", "size": 36, "thickness": 2.5, "color": "#000"}, "encoding": {"x": {"field": "phase", "type": "nominal"}, "y": {"field": "level", "type": "quantitative"}}},
            {"mark": {"type": "text", "fontSize": 32, "fontWeight": "bold", "dy": 11, "baseline": "alphabetic"}, "encoding": {"x": {"field": "phase", "type": "nominal"}, "y": {"field": "level", "type": "quantitative"}, "text": {"field": "label"}}}
          ]
        }
      ]
    }
  ]
}
